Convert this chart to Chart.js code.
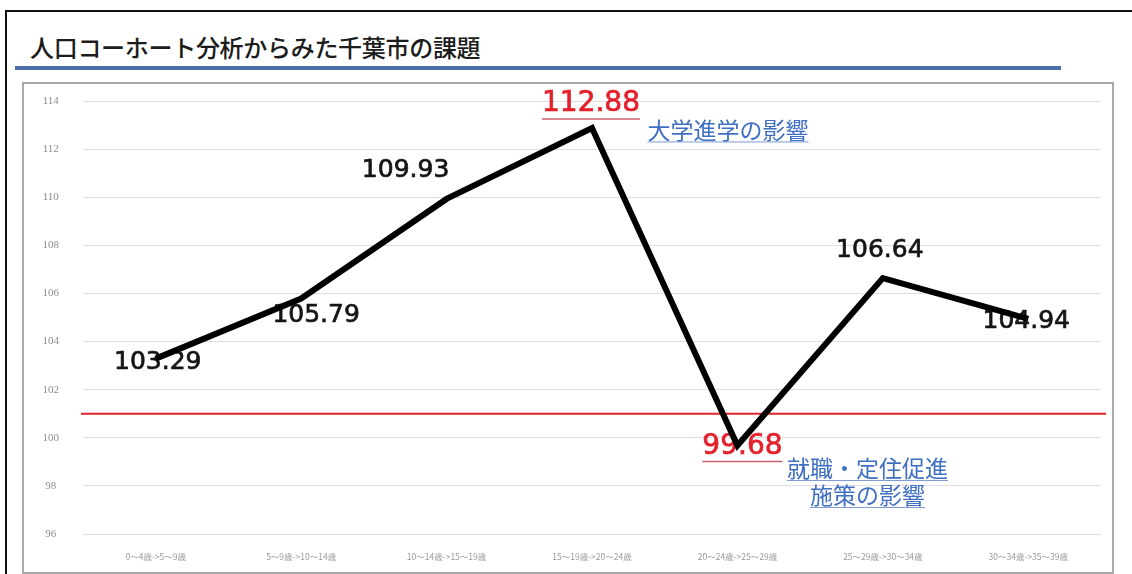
<!DOCTYPE html>
<html lang="ja">
<head>
<meta charset="utf-8">
<title>人口コーホート分析からみた千葉市の課題</title>
<script src="https://cdn.jsdelivr.net/npm/chart.js@4/dist/chart.umd.min.js"></script>
<style>
  body { margin: 0; background: #fff; width: 1132px; height: 574px; overflow: hidden; position: relative; }
  .frame { position: absolute; left: 5px; top: 10px; width: 1140px; height: 580px; border-top: 2px solid #111; border-left: 2px solid #111; }
  .title { position: absolute; left: 30px; top: 29px; font: 500 24px "Noto Sans CJK JP", sans-serif; color: #1c1c1c; letter-spacing: -0.3px; }
  .rule { position: absolute; left: 15px; top: 66px; width: 1046px; height: 4px; background: #4d6ea6; }
  .box { position: absolute; left: 22px; top: 82px; width: 1088px; height: 488px; border: 2px solid #a9a9a9; }
</style>
</head>
<body>
<div class="frame"></div>
<div class="title">人口コーホート分析からみた千葉市の課題</div>
<div class="rule"></div>
<div class="box"><canvas id="chart"></canvas></div>
<script>
// 純移動率（5歳階級の推移）
const cohorts = [
  '0～4歳->5～9歳', '5～9歳->10～14歳', '10～14歳->15～19歳', '15～19歳->20～24歳',
  '20～24歳->25～29歳', '25～29歳->30～34歳', '30～34歳->35～39歳'
];
const rates = [103.29, 105.79, 109.93, 112.88, 99.68, 106.64, 104.94];
const baseline = 101;
const yMin = 96, yMax = 114, yStep = 2;

// 強調する値（赤字）と注記
const highlighted = [3, 4];
const notes = [
  { index: 3, lines: ['大学進学の影響'] },
  { index: 4, lines: ['就職・定住促進', '施策の影響'] }
];

// ラベル位置の微調整（px）
const labelShift = [[2, 4], [15, 17], [-41, -28], [-1, -24], [5, 1], [-3, -28], [-2, 3]];
const noteShift = { 3: [136, 2], 4: [130, 23] };

const labelPlugin = {
  id: 'valueLabels',
  beforeDatasetsDraw(chart) {
    const { ctx, chartArea, scales } = chart;
    // 基準線
    const yb = scales.y.getPixelForValue(baseline);
    ctx.save();
    ctx.strokeStyle = '#e0242c';
    ctx.lineWidth = 2;
    ctx.beginPath();
    ctx.moveTo(chartArea.left - 2, yb);
    ctx.lineTo(chartArea.right + 5, yb);
    ctx.stroke();

    const meta = chart.getDatasetMeta(0);
    ctx.textAlign = 'center';
    ctx.textBaseline = 'middle';
    rates.forEach((v, i) => {
      const pt = meta.data[i];
      const x = pt.x + labelShift[i][0];
      const y = pt.y + labelShift[i][1];
      const red = highlighted.includes(i);
      const color = red ? '#e4202b' : '#151515';
      ctx.font = (red ? '28px' : '25px') + ' "DejaVu Sans", sans-serif';
      ctx.fillStyle = color;
      ctx.strokeStyle = color;
      ctx.lineWidth = 0.7;
      const text = v.toFixed(2);
      ctx.fillText(text, x, y);
      ctx.strokeText(text, x, y);
      if (red) {
        const w = ctx.measureText(text).width;
        ctx.strokeStyle = '#c8606a';
        ctx.lineWidth = 1.5;
        ctx.beginPath();
        ctx.moveTo(x - w / 2, y + 15);
        ctx.lineTo(x + w / 2, y + 15);
        ctx.stroke();
      }
    });

    ctx.font = '23px "Noto Sans CJK JP", sans-serif';
    ctx.fillStyle = '#3f6fc2';
    ctx.strokeStyle = '#7d9bd0';
    ctx.lineWidth = 1;
    notes.forEach(n => {
      const pt = meta.data[n.index];
      const [dx, dy] = noteShift[n.index];
      n.lines.forEach((t, k) => {
        const x = pt.x + dx;
        const y = pt.y + dy + k * 27;
        ctx.fillText(t, x, y);
        const w = ctx.measureText(t).width;
        ctx.beginPath();
        ctx.moveTo(x - w / 2, y + 12);
        ctx.lineTo(x + w / 2, y + 12);
        ctx.stroke();
      });
    });
    ctx.restore();
  }
};

new Chart(document.getElementById('chart'), {
  type: 'line',
  data: {
    labels: cohorts,
    datasets: [{
      data: rates,
      borderColor: '#000',
      borderWidth: 6,
      pointRadius: 0,
      tension: 0,
      fill: false
    }]
  },
  options: {
    responsive: true,
    maintainAspectRatio: false,
    animation: false,
    layout: { padding: { top: 17, right: 11, left: 0, bottom: 8 } },
    plugins: { legend: { display: false }, tooltip: { enabled: false } },
    scales: {
      x: {
        offset: true,
        grid: { display: false, offset: true },
        border: { display: false },
        ticks: {
          autoSkip: false, maxRotation: 0, padding: 10,
          color: '#9a9a9a', font: { size: 8.5, family: '"Noto Sans CJK JP", sans-serif' }
        },
        afterFit(axis) { axis.height = 30; }
      },
      y: {
        min: yMin, max: yMax,
        grid: { color: '#dedede', lineWidth: 1, drawTicks: false },
        border: { display: false },
        ticks: {
          stepSize: yStep, padding: 24, crossAlign: 'center',
          color: '#8c8c8c', font: { size: 11, family: '"Liberation Serif", serif' }
        },
        afterFit(axis) {
          axis.width = 59;
          // 目盛りの余白が描画領域を押し下げないようにする
          axis.paddingTop = 0;
          axis.paddingBottom = 0;
        }
      }
    }
  },
  plugins: [labelPlugin]
});
</script>
</body>
</html>
